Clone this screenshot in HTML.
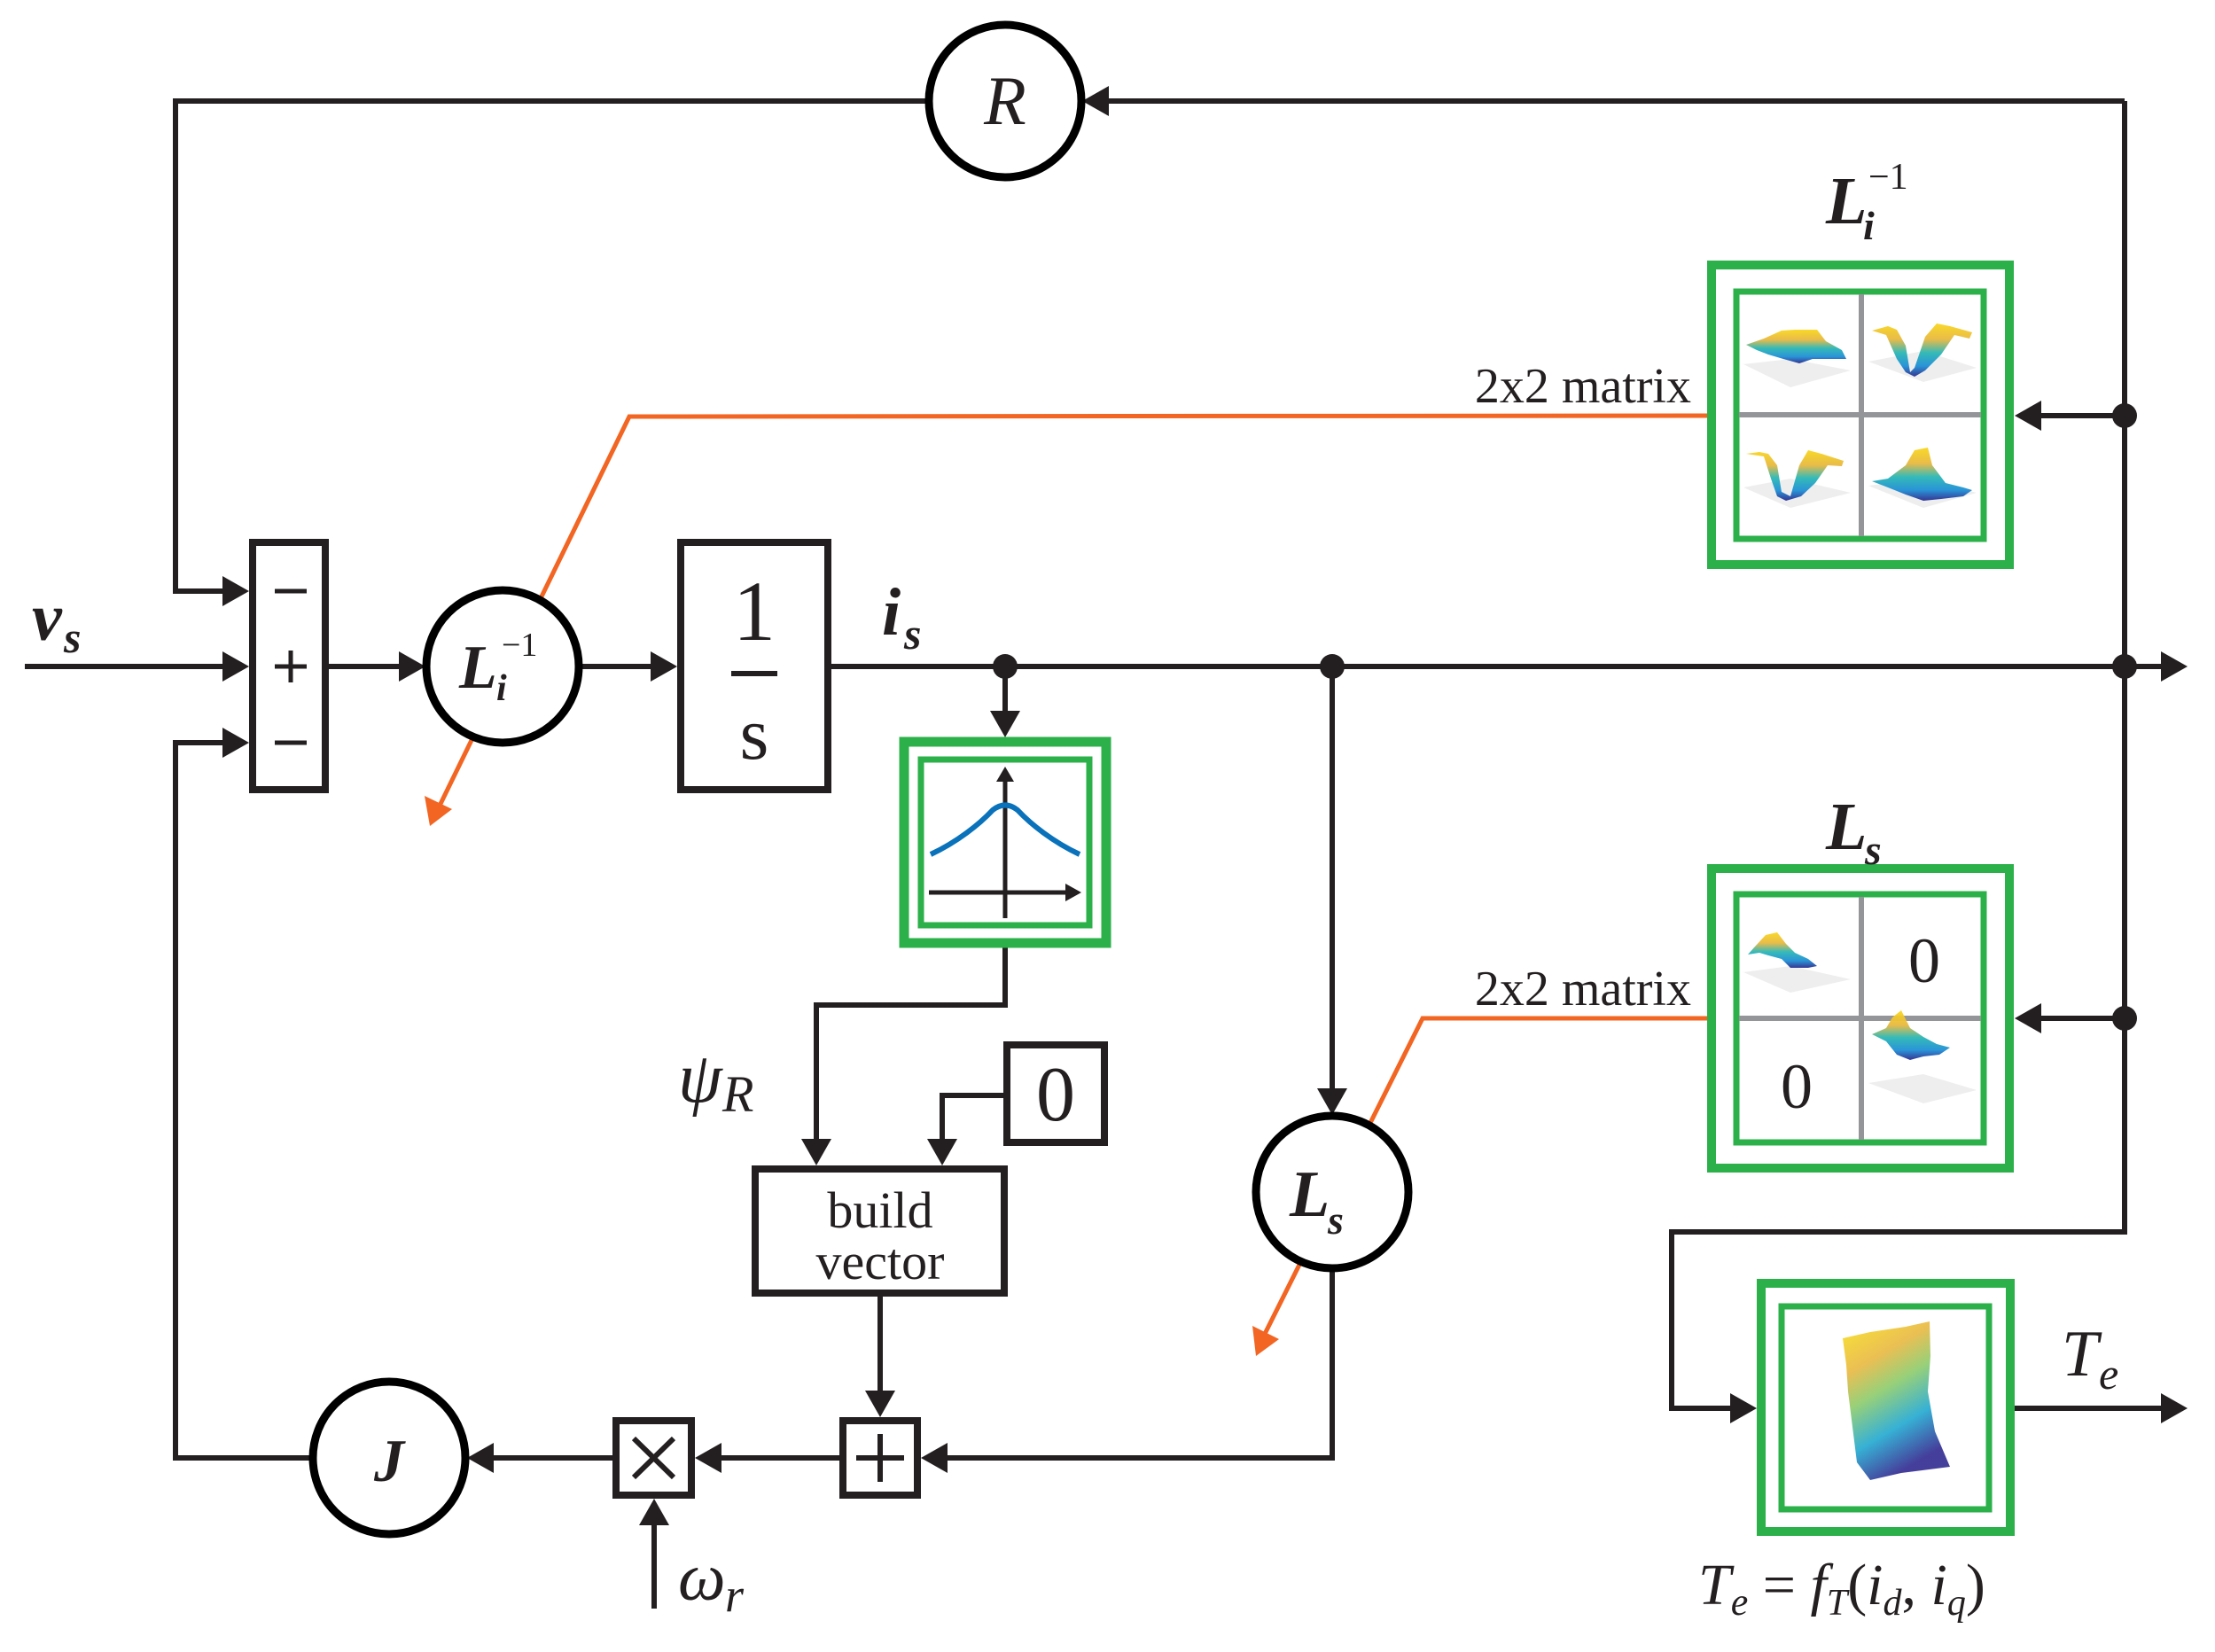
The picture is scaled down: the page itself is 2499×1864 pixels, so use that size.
<!DOCTYPE html>
<html><head><meta charset="utf-8"><style>
html,body{margin:0;padding:0;background:#fff}
svg{display:block}
text{font-family:"Liberation Serif",serif;fill:#231f20}
.m{font-style:italic}
.b{font-weight:bold;font-style:italic}
</style></head><body>
<svg width="2499" height="1864" viewBox="0 0 2499 1864" xmlns="http://www.w3.org/2000/svg">
<defs>
<linearGradient id="sg" x1="0" y1="0" x2="0" y2="1">
<stop offset="0" stop-color="#f9d71c"/><stop offset="0.3" stop-color="#e8b840"/><stop offset="0.55" stop-color="#2ab7b5"/><stop offset="0.8" stop-color="#1f8fd6"/><stop offset="1" stop-color="#2b2c8e"/>
</linearGradient>
<linearGradient id="tg" x1="0" y1="0" x2="0.4" y2="1">
<stop offset="0" stop-color="#f9e11c"/><stop offset="0.3" stop-color="#e8b840"/><stop offset="0.5" stop-color="#8ccb6a"/><stop offset="0.75" stop-color="#20a8d0"/><stop offset="1" stop-color="#302a90"/>
</linearGradient>
</defs>
<g stroke="#231f20" stroke-width="6" fill="none">
<polyline points="1047,114 198,114 198,667 255,667"/>
<polyline points="2397,114 1245,114"/>
<line x1="28" y1="752" x2="255" y2="752"/>
<line x1="371" y1="752" x2="455" y2="752"/>
<line x1="654" y1="752" x2="740" y2="752"/>
<line x1="938" y1="752" x2="2440" y2="752"/>
<line x1="1134" y1="752" x2="1134" y2="808"/>
<line x1="1503" y1="752" x2="1503" y2="1232"/>
<polyline points="2397,114 2397,1390 1886,1390 1886,1589 1955,1589"/>
<line x1="2397" y1="469" x2="2300" y2="469"/>
<line x1="2397" y1="1149" x2="2300" y2="1149"/>
<polyline points="1134,1069 1134,1134 921,1134 921,1290"/>
<polyline points="1132,1236 1063,1236 1063,1290"/>
<line x1="993" y1="1463" x2="993" y2="1575"/>
<polyline points="1503,1433 1503,1645 1065,1645"/>
<line x1="947" y1="1645" x2="810" y2="1645"/>
<line x1="691" y1="1645" x2="553" y2="1645"/>
<polyline points="351,1645 198,1645 198,838 255,838"/>
<line x1="738" y1="1815" x2="738" y2="1715"/>
<line x1="2273" y1="1589" x2="2440" y2="1589"/>
</g>
<g fill="#231f20">
<polygon points="251,650 281,667 251,684"/>
<polygon points="251,735 281,752 251,769"/>
<polygon points="251,821 281,838 251,855"/>
<polygon points="450,735 480,752 450,769"/>
<polygon points="734,735 764,752 734,769"/>
<polygon points="2438,735 2468,752 2438,769"/>
<polygon points="1251,97 1221,114 1251,131"/>
<polygon points="1117,802 1134,832 1151,802"/>
<polygon points="1486,1228 1503,1258 1520,1228"/>
<polygon points="2303,452 2273,469 2303,486"/>
<polygon points="2303,1132 2273,1149 2303,1166"/>
<polygon points="1952,1572 1982,1589 1952,1606"/>
<polygon points="2438,1572 2468,1589 2438,1606"/>
<polygon points="904,1285 921,1315 938,1285"/>
<polygon points="1046,1285 1063,1315 1080,1285"/>
<polygon points="976,1569 993,1599 1010,1569"/>
<polygon points="1069,1628 1039,1645 1069,1662"/>
<polygon points="814,1628 784,1645 814,1662"/>
<polygon points="557,1628 527,1645 557,1662"/>
<polygon points="721,1721 738,1691 755,1721"/>
<circle cx="1134" cy="752" r="14"/>
<circle cx="1503" cy="752" r="14"/>
<circle cx="2397" cy="752" r="14"/>
<circle cx="2397" cy="469" r="14"/>
<circle cx="2397" cy="1149" r="14"/>
</g>
<g stroke="#f26522" stroke-width="5" fill="none">
<polyline points="1926,469 710,470 497,907"/>
<polyline points="1926,1149 1605,1149 1427,1505"/>
</g>
<g fill="#f26522">
<polygon points="485,932 479,898 510,913"/>
<polygon points="1417,1530 1413,1496 1443,1511"/>
</g>
<g stroke="#000" stroke-width="9" fill="#fff">
<circle cx="1134" cy="114" r="86"/>
<circle cx="567" cy="752" r="86"/>
<circle cx="1503" cy="1345" r="86"/>
<circle cx="439" cy="1645" r="86"/>
</g>
<g stroke="#231f20" stroke-width="8" fill="#fff">
<rect x="285" y="612" width="82" height="279"/>
<rect x="768" y="612" width="166" height="279"/>
<rect x="852" y="1319" width="281" height="140"/>
<rect x="1136" y="1179" width="110" height="110"/>
<rect x="695" y="1603" width="85" height="84"/>
<rect x="951" y="1603" width="84" height="84"/>
</g>
<g stroke="#231f20" stroke-width="6">
<line x1="993" y1="1618" x2="993" y2="1672"/>
<line x1="966" y1="1645" x2="1020" y2="1645"/>
<line x1="715" y1="1623" x2="760" y2="1667"/>
<line x1="760" y1="1623" x2="715" y2="1667"/>
<line x1="825" y1="760" x2="877" y2="760"/>
</g>
<g stroke="#231f20" stroke-width="5">
<line x1="310" y1="667" x2="346" y2="667"/>
<line x1="310" y1="838" x2="346" y2="838"/>
<line x1="310" y1="752" x2="346" y2="752"/>
<line x1="328" y1="734" x2="328" y2="770"/>
</g>
<g stroke="#2bb04a" fill="none">
<rect x="1020" y="837" width="228" height="227" stroke-width="11"/>
<rect x="1039" y="857" width="190" height="187" stroke-width="7"/>
<rect x="1931" y="299" width="336" height="338" stroke-width="10"/>
<rect x="1959" y="329" width="279" height="279" stroke-width="7"/>
<rect x="1931" y="980" width="336" height="338" stroke-width="10"/>
<rect x="1959" y="1009" width="279" height="280" stroke-width="7"/>
<rect x="1987" y="1448" width="281" height="280" stroke-width="10"/>
<rect x="2010" y="1474" width="234" height="229" stroke-width="7"/>
</g>
<g stroke="#939598" stroke-width="6">
<line x1="2100" y1="332" x2="2100" y2="605"/>
<line x1="1962" y1="468" x2="2235" y2="468"/>
<line x1="2100" y1="1012" x2="2100" y2="1286"/>
<line x1="1962" y1="1149" x2="2235" y2="1149"/>
</g>
<g stroke="#231f20" stroke-width="5" fill="none">
<line x1="1134" y1="1036" x2="1134" y2="880"/>
<line x1="1048" y1="1007" x2="1205" y2="1007"/>
</g>
<polygon points="1124,882 1134,865 1144,882" fill="#231f20"/>
<polygon points="1202,997 1220,1007 1202,1017" fill="#231f20"/>
<path d="M1050,964 C1080,950 1105,930 1120,914 Q1134,903 1148,914 C1163,930 1188,950 1218,964" stroke="#0a72ba" stroke-width="6" fill="none"/>
<g fill="#eeeeee">
<polygon points="1967,411 2020,405 2088,418 2020,437"/>
<polygon points="2108,408 2170,396 2230,415 2170,431"/>
<polygon points="1967,550 2020,540 2088,556 2020,573"/>
<polygon points="2108,548 2170,540 2230,556 2170,573"/>
<polygon points="1967,1097 2020,1090 2088,1105 2020,1120"/>
<polygon points="2108,1222 2170,1212 2230,1230 2170,1245"/>
</g>
<g fill="url(#sg)" opacity="0.95">
<path d="M1970,389 L1990,382 2010,373 2025,372 2033,372 2050,372 2060,385 2078,395 2083,405 2060,405 2045,405 2030,410 2012,405 1995,400 1982,395Z"/>
<path d="M2112,373 L2130,368 2140,372 2150,390 2155,420 2160,415 2172,380 2185,365 2200,368 2225,375 2222,382 2205,378 2190,400 2172,418 2160,425 2150,420 2140,405 2128,378Z"/>
<path d="M1970,512 L1985,510 1995,512 2005,525 2010,555 2020,560 2030,525 2040,508 2055,512 2080,520 2078,526 2062,525 2048,545 2032,560 2015,565 2005,560 1998,540 1990,515Z"/>
<path d="M2112,543 L2130,540 2150,525 2160,508 2175,505 2180,525 2195,545 2215,550 2225,553 2215,560 2190,563 2170,565 2150,558 2130,550Z"/>
<path d="M1972,1077 L1980,1068 1992,1055 2005,1052 2015,1065 2025,1075 2040,1082 2050,1090 2040,1092 2020,1092 2010,1082 1995,1078 1985,1075Z"/>
<path d="M2112,1167 L2128,1160 2135,1148 2145,1140 2155,1160 2170,1170 2185,1178 2200,1182 2188,1190 2170,1192 2155,1196 2140,1190 2128,1175Z"/>
</g>
<path d="M2079,1510 L2110,1503 2150,1497 2177,1491 2178,1530 2175,1570 2183,1615 2200,1655 2145,1662 2110,1670 2095,1650 2090,1610 2085,1570 2083,1540Z" fill="url(#tg)" opacity="0.9"/>
<text x="1134" y="140" class="m" font-size="78" text-anchor="middle">R</text>
<text x="36" y="722" class="b" font-size="76">v</text><text x="72" y="736" class="b" font-size="50">s</text>
<text x="995" y="716" class="b" font-size="76">i</text><text x="1020" y="732" class="b" font-size="50">s</text>
<text x="518" y="776" class="b" font-size="70">L</text><text x="560" y="790" class="b" font-size="42">i</text><text x="566" y="740" font-size="38">−1</text>
<text x="851" y="722" font-size="96" text-anchor="middle">1</text>
<text x="851" y="856" font-size="84" text-anchor="middle">s</text>
<text x="2060" y="252" class="b" font-size="76">L</text><text x="2102" y="270" class="b" font-size="46">i</text><text x="2108" y="213" font-size="42">−1</text>
<text x="2060" y="958" class="b" font-size="76">L</text><text x="2104" y="975" class="b" font-size="48">s</text>
<text x="1455" y="1372" class="b" font-size="74">L</text><text x="1498" y="1392" class="b" font-size="46">s</text>
<text x="439" y="1671" class="b" font-size="68" text-anchor="middle">J</text>
<text x="1908" y="454" font-size="56" text-anchor="end">2x2 matrix</text>
<text x="1908" y="1134" font-size="56" text-anchor="end">2x2 matrix</text>
<text x="2171" y="1108" font-size="72" text-anchor="middle">0</text>
<text x="2027" y="1250" font-size="72" text-anchor="middle">0</text>
<text x="1191" y="1264" font-size="88" text-anchor="middle">0</text>
<text x="993" y="1385" font-size="58" text-anchor="middle">build</text>
<text x="993" y="1443" font-size="58" text-anchor="middle">vector</text>
<text x="765" y="1243" class="m" font-size="80">ψ</text><text x="815" y="1254" class="m" font-size="58">R</text>
<text x="765" y="1805" class="m" font-size="76">ω</text><text x="818" y="1818" class="m" font-size="54">r</text>
<text x="2326" y="1552" class="m" font-size="74">T</text><text x="2368" y="1567" class="m" font-size="50">e</text>
<text x="1916" y="1810" class="m" font-size="66">T<tspan font-size="44" dy="12">e</tspan><tspan dy="-12" font-style="normal"> = </tspan>f<tspan font-size="42" dy="12">T</tspan><tspan dy="-12" font-style="normal">(</tspan>i<tspan font-size="42" dy="12">d</tspan><tspan dy="-12" font-style="normal">, </tspan>i<tspan font-size="42" dy="12">q</tspan><tspan dy="-12" font-style="normal">)</tspan></text>
</svg>
</body></html>
